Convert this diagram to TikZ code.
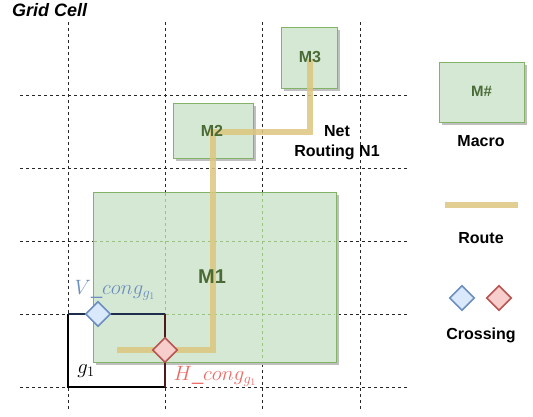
\documentclass[tikz,border=0pt]{standalone}
\usepackage{fontspec}
\setmainfont{Liberation Sans}
\usetikzlibrary{shapes.geometric}
\definecolor{macfill}{HTML}{D5E8D4}
\definecolor{macdraw}{HTML}{82B366}
\definecolor{mactext}{HTML}{4A6B35}
\definecolor{routec}{HTML}{DDC67F}
\definecolor{bluefill}{HTML}{DAE8FC}
\definecolor{bluedraw}{HTML}{6C8EBF}
\definecolor{redfill}{HTML}{F8CECC}
\definecolor{reddraw}{HTML}{B85450}
\definecolor{redtext}{HTML}{EA6B66}
\definecolor{topedge}{RGB}{30,45,75}
\definecolor{rightedge}{RGB}{80,25,25}
\tikzset{
  gridline/.style={black!85, line width=0.9pt, dash pattern=on 3pt off 3pt},
  greengrid/.style={macdraw!80, line width=0.8pt, dash pattern=on 3pt off 3pt},
  macro/.style={draw=macdraw, fill=macfill, line width=0.9pt},
  macshadow/.style={fill=black!25, draw=none},
  routeline/.style={routec, opacity=0.85, line width=5.5pt},
  bluedia/.style={diamond, draw=bluedraw, fill=bluefill, line width=1.6pt, minimum size=25pt, inner sep=0pt},
  reddia/.style={diamond, draw=reddraw, fill=redfill, line width=1.6pt, minimum size=25pt, inner sep=0pt},
  lbl/.style={font=\bfseries\fontsize{16}{20}\selectfont, align=center},
  mlbl/.style={font=\bfseries\fontsize{16}{18}\selectfont, text=mactext}
}
\begin{document}
\begin{tikzpicture}[x=1pt,y=-1pt]
\useasboundingbox (0,0) rectangle (533,416);
% grid
\foreach \x/\n in {68/v1,165/v2,262/v3,360/v4}{
  \coordinate (\n t) at (\x,22); \coordinate (\n b) at (\x,411);
  \draw[gridline] (\n t) -- (\n b);
}
\foreach \y/\n in {95/h1,168/h2,241/h3,314/h4,387/h5}{
  \coordinate (\n l) at (20,\y); \coordinate (\n r) at (409,\y);
  \draw[gridline] (\n l) -- (\n r);
}
\node[font=\bfseries\itshape\fontsize{18}{20}\selectfont, anchor=west, inner sep=0pt] (title) at (12,10) {Grid Cell};
% M1
\fill[macshadow] (96,195) rectangle (339,365);
\draw[macro] (93,192) rectangle (336,362);
\foreach \x in {165,262}{ \draw[greengrid] (\x,193) -- (\x,361); }
\foreach \y in {241,314}{ \draw[greengrid] (94,\y) -- (335,\y); }
% M2
\fill[macshadow] (176,106) rectangle (256,161);
\draw[macro] (173,103) rectangle (253,158);
% M3
\fill[macshadow] (284,30) rectangle (340,91);
\draw[macro] (281,27) rectangle (337,88);
% g1 cell
\coordinate (g1tl) at (68,314);
\coordinate (g1tr) at (165,314);
\coordinate (g1br) at (165,387);
\coordinate (g1bl) at (68,387);
\draw[black, line width=1.1pt] (g1tl) -- (g1bl) -- (g1br);
\draw[topedge, line width=1.3pt] (g1tl) -- (g1tr);
\draw[rightedge, line width=1.3pt] (g1tr) -- (g1br);
% route
\coordinate (rs) at (117,350);
\coordinate (r1) at (213,350);
\coordinate (r2) at (213,132);
\coordinate (r3) at (310,132);
\coordinate (r4) at (310,59);
\draw[routeline, line join=miter] (rs) -- (r1) -- (r2) -- (r3) -- (r4);
% macro labels on top of route
\node[font=\bfseries\fontsize{20}{22}\selectfont, text=mactext] (M1) at (212,277) {M1};
\node[mlbl] (M2) at (212,131) {M2};
\node[mlbl] (M3) at (310,57) {M3};
\node[lbl, anchor=center] (net) at (337,143) {Net\\Routing N1};
% crossings
\node[bluedia] (vd) at (98,314) {};
\node[reddia] (hd) at (165,350) {};
\node[text=bluedraw, font=\fontsize{20}{22}\selectfont] (vl) at (115,290) {$V\_cong_{g_1}$};
\node[text=redtext, font=\fontsize{20}{22}\selectfont] (hl) at (215,376) {$H\_cong_{g_1}$};
\node[font=\fontsize{21}{23}\selectfont] (g1) at (86,371) {$g_1$};
% legend
\fill[macshadow] (442,65) rectangle (527,125);
\draw[macro] (439,62) rectangle (524,122);
\node[mlbl, font=\bfseries\fontsize{15}{17}\selectfont] (Mh) at (481.5,91) {M\#};
\node[lbl] (macro) at (481,141) {Macro};
\coordinate (la) at (445,205); \coordinate (lb) at (518,205);
\draw[routeline] (la) -- (lb);
\node[lbl] (route) at (481,238) {Route};
\node[bluedia] (ld1) at (462,298) {};
\node[reddia] (ld2) at (499,298) {};
\node[lbl] (cross) at (481,335) {Crossing};
\end{tikzpicture}
\end{document}
